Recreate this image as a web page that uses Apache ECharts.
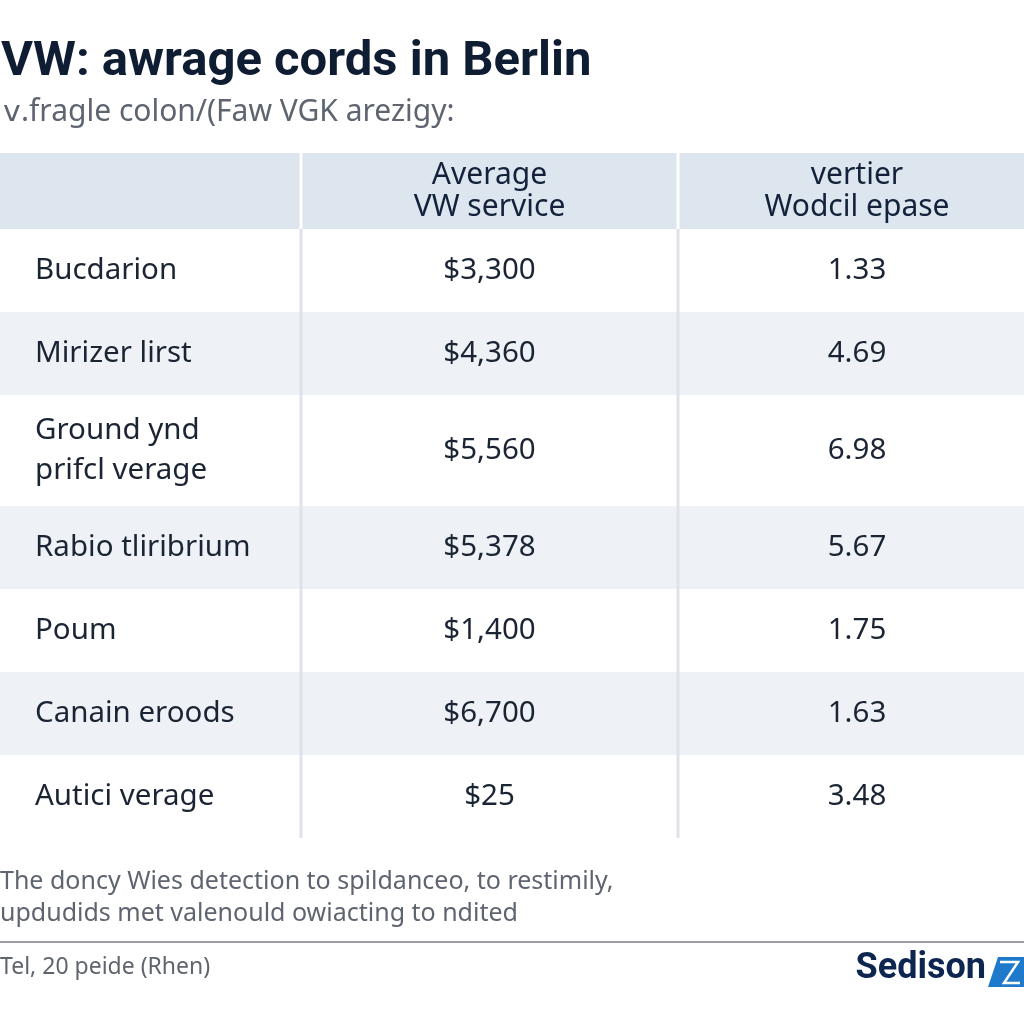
<!DOCTYPE html>
<html><head><meta charset="utf-8">
<script src="https://cdn.jsdelivr.net/npm/echarts@6/dist/echarts.min.js"></script>
<style>html,body{margin:0;padding:0;background:#fff}#c{width:1024px;height:1024px}</style>
</head><body><div id="c"></div>
<script>
// ---- data ----
const titleText = 'VW: awrage cords in Berlin';
const subtitleText = '\u2174.fragle colon/(Faw VGK arezigy:';
const columnHeaders = ['', 'Average\nVW service', 'vertier\nWodcil epase'];
const categories = ['Bucdarion', 'Mirizer lirst', 'Ground ynd\nprifcl verage', 'Rabio tliribrium', 'Poum', 'Canain eroods', 'Autici verage'];
const serviceCost = [3300, 4360, 5560, 5378, 1400, 6700, 25];
const ratioValues = [1.33, 4.69, 6.98, 5.67, 1.75, 1.63, 3.48];
const footnoteText = 'The doncy Wies detection to spildanceo, to restimily,\nupdudids met valenould owiacting to ndited';
const sourceText = 'Tel, 20 peide (Rhen)';
const brandText = 'Sedison';

// ---- layout ----
const HEADER_H = 76, ROW_H = 83, EXTRA_LINE = 28;
const colEdges = [0, 301, 678, 1036];
const rowsSpec = [{kind: 'header', lines: 2}].concat(categories.map(c => ({kind: 'row', lines: c.split('\n').length})));
let acc = 0;
const rowData = rowsSpec.map((r, i) => {
  const h = r.kind === 'header' ? HEADER_H : ROW_H + EXTRA_LINE * (r.lines - 1);
  const item = [acc, acc + h, i];
  acc += h;
  return item;
});
const total = acc;

const fontTable = '"Noto Sans", "Open Sans", sans-serif';
const navy = '#13213a';
const FS = 29.5;

function renderItem(params, api) {
  const i = api.value(2);
  const y0 = api.coord([0, api.value(0)])[1];
  const y1 = api.coord([0, api.value(1)])[1];
  const xs = colEdges.map(e => api.coord([e, 0])[0]);
  const top = Math.min(y0, y1), h = Math.abs(y1 - y0), mid = top + h / 2;
  const children = [];
  let bg;
  if (i === 0) bg = '#dde6ef';
  else bg = (i % 2 === 0) ? '#eef2f7' : '#ffffff';
  children.push({type: 'rect', shape: {x: xs[0], y: top, width: xs[3] - xs[0], height: h}, style: {fill: bg}});
  const divColor = i === 0 ? '#ffffff' : '#dfe3e9';
  [1, 2].forEach(k => children.push({type: 'rect', shape: {x: xs[k] - 1.5, y: top, width: 3, height: h}, style: {fill: divColor}}));
  if (i === 0) {
    [1, 2].forEach(k => children.push({type: 'text', style: {
      x: (xs[k] + xs[k + 1]) / 2, y: mid, text: columnHeaders[k], textAlign: 'center', textVerticalAlign: 'middle',
      fontSize: 30, fontFamily: fontTable, fill: navy, lineHeight: 32
    }}));
  } else {
    const r = i - 1;
    children.push({type: 'text', style: {
      x: xs[0] + 35, y: mid, text: categories[r], textAlign: 'left', textVerticalAlign: 'middle',
      fontSize: FS, fontFamily: fontTable, fill: '#1b2433', lineHeight: 40
    }});
    children.push({type: 'text', style: {
      x: (xs[1] + xs[2]) / 2, y: mid, text: '$' + serviceCost[r].toLocaleString('en-US'), textAlign: 'center', textVerticalAlign: 'middle',
      fontSize: FS, fontFamily: fontTable, fill: '#1b2433'
    }});
    children.push({type: 'text', style: {
      x: (xs[2] + xs[3]) / 2, y: mid, text: ratioValues[r].toFixed(2), textAlign: 'center', textVerticalAlign: 'middle',
      fontSize: FS, fontFamily: fontTable, fill: '#1b2433'
    }});
  }
  return {type: 'group', children: children};
}

const chart = echarts.init(document.getElementById('c'), null, {renderer: 'canvas'});
chart.setOption({
  backgroundColor: '#ffffff',
  animation: false,
  title: [
    {text: titleText, left: -4, top: 33, textStyle: {fontSize: 49, fontWeight: 'bold', fontFamily: 'Roboto, "Liberation Sans", sans-serif', color: '#0f1d33'}},
    {text: subtitleText, left: -2, top: 92, textStyle: {fontSize: 30, fontWeight: 'normal', fontFamily: fontTable, color: '#5e6570'}}
  ],
  grid: {left: 0, right: 0, top: 153, bottom: 1024 - 153 - total, containLabel: false},
  xAxis: {type: 'value', min: 0, max: 1024, show: false},
  yAxis: {type: 'value', min: 0, max: total, inverse: true, show: false},
  series: [{
    type: 'custom', renderItem: renderItem, data: rowData,
    encode: {y: [0, 1]}, silent: true, clip: false
  }],
  graphic: [
    {type: 'text', left: 0, top: 866, style: {text: footnoteText, fontSize: 25, fontFamily: fontTable, fill: '#5f6570', lineHeight: 32}},
    {type: 'rect', left: 0, top: 941, shape: {width: 1024, height: 2}, style: {fill: '#9a9da2'}},
    {type: 'text', left: 0, top: 956, style: {text: sourceText, fontSize: 23, fontFamily: fontTable, fill: '#60656d'}},
    {type: 'text', right: 38, top: 951, style: {text: brandText, fontSize: 36, fontWeight: 'bold', fontFamily: 'Roboto, sans-serif', fill: '#0d2650'}},
    {type: 'polygon', shape: {points: [[998, 957], [1024, 957], [1024, 987], [988, 987]]}, style: {fill: '#1f7acb'}},
    {type: 'polyline', shape: {points: [[1000, 962], [1018, 962], [1004, 983], [1020, 983]]}, style: {stroke: '#ffffff', lineWidth: 2.5, fill: null}}
  ]
});
</script></body></html>
